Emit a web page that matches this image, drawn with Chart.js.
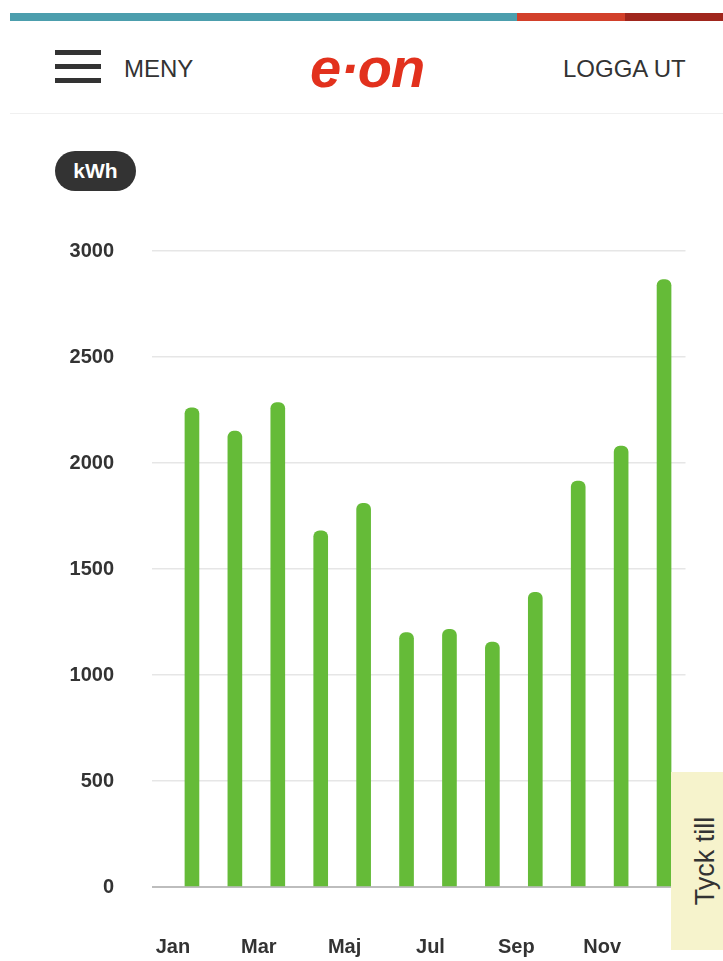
<!DOCTYPE html>
<html>
<head>
<meta charset="utf-8">
<script src="https://cdn.jsdelivr.net/npm/chart.js@4"></script>
<style>
  html, body { margin: 0; padding: 0; background: #fff; }
  body { width: 723px; height: 961px; position: relative; overflow: hidden; font-family: "Liberation Sans", Arial, sans-serif; }
  .stripe { position: absolute; top: 13px; height: 8px; }
  .burger span { position: absolute; left: 55px; width: 46px; height: 5px; background: #333; }
  .txt { position: absolute; color: #333; font-size: 24px; line-height: 1; }
  .logo { position: absolute; left: 310px; top: 40px; font-size: 56px; font-weight: bold; font-style: italic; color: #e2311d; letter-spacing: -1px; line-height: 1; }
  .sep { position: absolute; left: 10px; right: 0; top: 113px; height: 1px; background: #f0f0f0; }
  .pill { position: absolute; left: 55px; top: 151px; width: 81px; height: 40px; border-radius: 20px; background: #333; color: #fff; font-weight: bold; font-size: 21px; line-height: 40px; text-align: center; }
  .tyck { position: absolute; left: 671px; top: 772px; width: 60px; height: 178px; background: #f6f3cc; }
  .tyck span { position: absolute; left: 34px; top: 89px; transform: translate(-50%, -50%) rotate(-90deg); white-space: nowrap; font-size: 27px; color: #333; }
  #wrap { position: absolute; left: 0; top: 200px; width: 723px; height: 761px; }
</style>
</head>
<body>
<div class="stripe" style="left:10px;width:507px;background:#4c9ead"></div>
<div class="stripe" style="left:517px;width:108px;background:#d2402a"></div>
<div class="stripe" style="left:625px;width:98px;background:#a0261d"></div>

<div class="burger">
  <span style="top:50px"></span>
  <span style="top:64px"></span>
  <span style="top:78px"></span>
</div>
<div class="txt" style="left:124px;top:57px;">MENY</div>
<div class="logo">e·on</div>
<div class="txt" style="left:563px;top:57px;">LOGGA UT</div>
<div class="sep"></div>

<div class="pill">kWh</div>

<div id="wrap"><canvas id="usageChart"></canvas></div>

<div class="tyck"><span>Tyck till</span></div>

<script>
// månader och förbrukning (kWh)
const months = ['Jan', 'Feb', 'Mar', 'Apr', 'Maj', 'Jun', 'Jul', 'Aug', 'Sep', 'Okt', 'Nov', 'Dec'];
const usage = [2260, 2150, 2285, 1680, 1810, 1200, 1215, 1155, 1390, 1915, 2080, 2865];
const yTicks = [0, 500, 1000, 1500, 2000, 2500, 3000];

const tickFont = { family: '"Liberation Sans", Arial, sans-serif', size: 20, weight: 'bold' };

const ctx = document.getElementById('usageChart').getContext('2d');
const usageChart = new Chart(ctx, {
    type: 'bar',
    data: {
        labels: months,
        datasets: [{
            data: usage,
            backgroundColor: '#65bb38',
            barThickness: 14,
            borderRadius: { topLeft: 6, topRight: 6 },
            borderSkipped: 'bottom'
        }]
    },
    options: {
        responsive: true,
        maintainAspectRatio: false,
        animation: false,
        layout: { padding: { top: 51, right: 37.5, left: 0, bottom: 0 } },
        plugins: {
            legend: { display: false },
            tooltip: { enabled: false }
        },
        scales: {
            x: {
                grid: { display: false, drawTicks: false },
                border: { display: false },
                ticks: {
                    autoSkip: false,
                    maxRotation: 0,
                    padding: 48,
                    labelOffset: -19,
                    color: '#333',
                    font: tickFont,
                    callback: (val, i) => (i % 2 === 0 ? months[i] : '')
                },
                afterFit: (s) => { s.height = 74; }
            },
            y: {
                min: yTicks[0],
                max: yTicks[yTicks.length - 1],
                afterBuildTicks: (s) => { s.ticks = yTicks.map(v => ({ value: v })); },
                grid: {
                    color: (c) => (c.tick && c.tick.value === 0 ? '#bdbdbd' : '#e6e6e6'),
                    lineWidth: (c) => (c.tick && c.tick.value === 0 ? 2 : 1.5),
                    tickLength: 18.5
                },
                border: { display: false },
                ticks: {
                    padding: 38,
                    color: '#333',
                    font: tickFont,
                    callback: (val) => String(val)
                },
                afterFit: (s) => { s.width = 170.5; }
            }
        }
    }
});
</script>
</body>
</html>
